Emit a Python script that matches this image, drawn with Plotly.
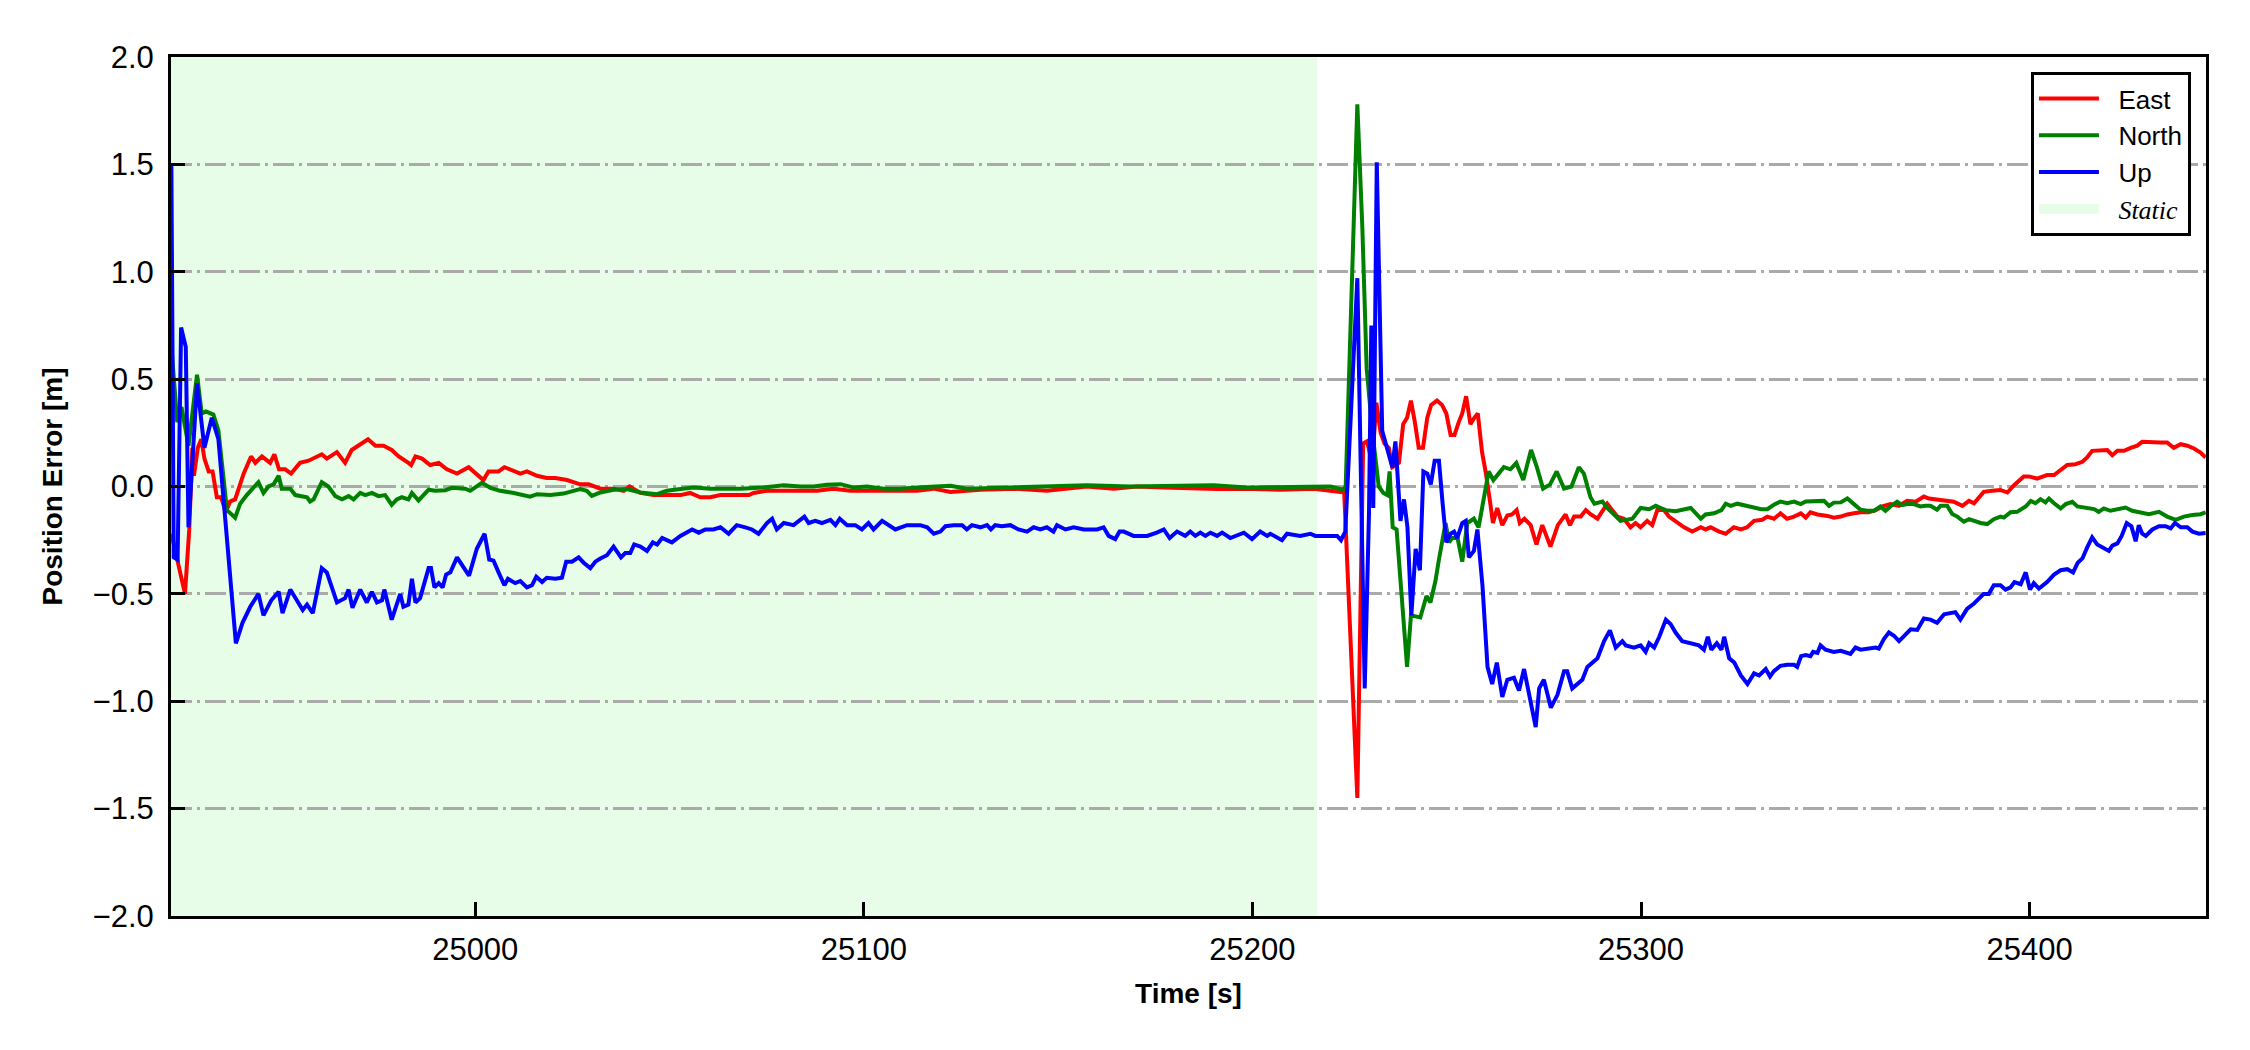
import plotly.graph_objects as go

# position error time series
t_east = [24921.8, 24923.5, 24925.3, 24926.4, 24927.2, 24927.6, 24928.6, 24929.5, 24930.3, 24931.4,
          24932.4, 24933.5, 24934.6, 24935.8, 24936.9, 24938.2, 24940.4, 24942.3, 24943.4, 24945.1,
          24947.2, 24948.3, 24949.5, 24951.1, 24952.6, 24954.9, 24957.1, 24960.5, 24961.8, 24964.4,
          24966.5, 24968.2, 24970.8, 24972.4, 24974.3, 24976.4, 24978.5, 24980.3, 24982.8, 24983.5,
          24984.6, 24986.3, 24988.4, 24990.6, 24992.7, 24995.3, 24998.3, 25002.1, 25003.4, 25006.0,
          25007.5, 25009.9, 25011.6, 25013.3, 25015.9, 25018.4, 25020.6, 25023.6, 25027.0, 25029.2,
          25032.2, 25035.6, 25038.2, 25039.7, 25042.5, 25045.9, 25049.3, 25052.8, 25055.3, 25057.9,
          25060.5, 25063.1, 25066.5, 25070.4, 25071.6, 25075.1, 25079.4, 25083.7, 25087.9, 25092.2,
          25096.5, 25100.8, 25105.1, 25109.4, 25113.7, 25117.9, 25122.3, 25130.0, 25138.5, 25147.1,
          25157.4, 25164.3, 25170.3, 25177.2, 25185.7, 25190.9, 25198.6, 25207.2, 25215.8, 25222.6,
          25223.6, 25227.0, 25228.5, 25229.5, 25230.8, 25231.9, 25233.0, 25234.0, 25235.1, 25236.0,
          25237.7, 25238.8, 25239.8, 25240.8, 25241.8, 25242.8, 25243.9, 25245.0, 25246.0, 25247.5,
          25248.8, 25249.9, 25251.0, 25252.0, 25253.1, 25254.0, 25255.0, 25256.1, 25257.1, 25258.0,
          25259.1, 25260.1, 25261.3, 25261.9, 25263.0, 25264.3, 25265.6, 25266.8, 25268.0, 25268.8,
          25270.0, 25271.6, 25273.1, 25274.6, 25276.7, 25278.6, 25280.6, 25281.7, 25282.8, 25284.5,
          25285.8, 25287.1, 25288.8, 25290.1, 25291.3, 25292.6, 25293.9, 25295.6, 25297.3, 25298.6,
          25299.9, 25301.6, 25302.9, 25304.2, 25305.9, 25307.2, 25309.3, 25311.1, 25313.2, 25315.4,
          25316.6, 25317.9, 25320.1, 25321.8, 25323.9, 25325.7, 25327.3, 25329.1, 25331.2, 25332.5,
          25334.2, 25335.9, 25337.6, 25339.4, 25341.1, 25342.4, 25343.6, 25345.4, 25348.0, 25349.6,
          25351.4, 25353.1, 25354.8, 25356.5, 25358.6, 25360.4, 25362.1, 25364.2, 25366.4, 25368.5,
          25370.7, 25372.8, 25374.1, 25375.8, 25378.0, 25380.5, 25382.7, 25384.4, 25385.7, 25388.2,
          25390.4, 25392.5, 25394.3, 25396.0, 25398.5, 25399.8, 25401.9, 25404.5, 25406.3, 25408.0,
          25409.7, 25411.8, 25413.6, 25414.8, 25416.1, 25420.0, 25421.3, 25422.6, 25424.3, 25426.0,
          25427.7, 25429.0, 25431.1, 25433.7, 25435.4, 25437.1, 25438.9, 25440.6, 25442.3, 25444.0,
          25445.3]
east = [-0.22, -0.36, -0.50, -0.20, 0.18, 0.05, 0.18, 0.22, 0.13, 0.07,
        0.07, -0.05, -0.05, -0.12, -0.07, -0.06, 0.06, 0.14, 0.11, 0.14,
        0.11, 0.15, 0.08, 0.08, 0.06, 0.11, 0.12, 0.15, 0.13, 0.16,
        0.11, 0.17, 0.20, 0.22, 0.19, 0.19, 0.17, 0.14, 0.11, 0.10,
        0.14, 0.13, 0.10, 0.11, 0.08, 0.06, 0.09, 0.03, 0.07, 0.07,
        0.09, 0.07, 0.06, 0.07, 0.05, 0.04, 0.04, 0.03, 0.01, 0.01,
        -0.01, -0.01, -0.02, 0.00, -0.03, -0.04, -0.04, -0.04, -0.03, -0.05,
        -0.05, -0.04, -0.04, -0.04, -0.03, -0.02, -0.02, -0.02, -0.02, -0.01,
        -0.02, -0.02, -0.02, -0.02, -0.02, -0.01, -0.025, -0.015, -0.01, -0.02,
        0.00, -0.01, 0.00, -0.005, -0.01, -0.012, -0.01, -0.015, -0.01, -0.025,
        -0.02, -1.45, 0.20, 0.21, 0.11, 0.39, 0.25, 0.20, 0.18, 0.09,
        0.11, 0.29, 0.32, 0.40, 0.30, 0.18, 0.18, 0.32, 0.38, 0.40,
        0.38, 0.34, 0.24, 0.24, 0.30, 0.34, 0.42, 0.29, 0.32, 0.34,
        0.16, 0.06, -0.09, -0.17, -0.10, -0.18, -0.135, -0.13, -0.11, -0.17,
        -0.15, -0.18, -0.27, -0.18, -0.28, -0.18, -0.13, -0.18, -0.14, -0.14,
        -0.11, -0.13, -0.15, -0.11, -0.08, -0.11, -0.14, -0.15, -0.19, -0.17,
        -0.19, -0.16, -0.18, -0.11, -0.11, -0.14, -0.17, -0.19, -0.21, -0.19,
        -0.20, -0.19, -0.21, -0.22, -0.19, -0.20, -0.19, -0.16, -0.155, -0.14,
        -0.15, -0.125, -0.15, -0.14, -0.125, -0.145, -0.12, -0.13, -0.137, -0.145,
        -0.14, -0.13, -0.125, -0.12, -0.12, -0.11, -0.093, -0.082, -0.09, -0.067,
        -0.071, -0.047, -0.056, -0.059, -0.062, -0.071, -0.09, -0.067, -0.078, -0.025,
        -0.02, -0.016, -0.028, 0.006, 0.047, 0.047, 0.037, 0.053, 0.053, 0.078,
        0.10, 0.104, 0.115, 0.135, 0.166, 0.17, 0.146, 0.166, 0.166, 0.18,
        0.19, 0.208, 0.205, 0.205, 0.205, 0.18, 0.197, 0.19, 0.177, 0.158,
        0.135]

t_north = [24921.8, 24923.3, 24924.4, 24926.2, 24928.4, 24929.6, 24930.7, 24932.6, 24933.9, 24936.1,
           24938.2, 24939.5, 24941.2, 24942.5, 24944.2, 24945.5, 24946.8, 24948.1, 24949.4, 24950.2,
           24952.4, 24953.7, 24955.4, 24956.7, 24957.5, 24958.4, 24960.5, 24962.2, 24964.0, 24965.7,
           24967.4, 24968.7, 24970.4, 24971.7, 24973.4, 24975.1, 24976.8, 24978.5, 24979.8, 24981.1,
           24982.8, 24983.7, 24985.4, 24988.0, 24989.7, 24992.3, 24994.0, 24995.7, 24997.4, 24998.7,
           25001.7, 25003.9, 25006.4, 25009.9, 25014.1, 25015.9, 25019.3, 25022.7, 25024.9, 25027.0,
           25028.7, 25030.0, 25032.2, 25035.6, 25039.0, 25042.5, 25046.8, 25049.3, 25052.8, 25056.2,
           25060.5, 25064.8, 25068.2, 25074.2, 25079.4, 25083.7, 25087.1, 25090.5, 25094.0, 25097.4,
           25100.8, 25105.1, 25109.4, 25113.7, 25118.0, 25122.3, 25126.5, 25134.3, 25142.8, 25157.4,
           25168.5, 25184.0, 25190.0, 25198.6, 25211.5, 25220.1, 25223.3, 25224.0, 25227.0, 25228.3,
           25229.4, 25230.9, 25232.5, 25233.7, 25234.7, 25235.3, 25236.1, 25237.1, 25239.8, 25240.8,
           25243.2, 25244.8, 25245.8, 25247.1, 25248.0, 25249.7, 25250.6, 25251.4, 25252.8, 25254.0,
           25255.3, 25257.0, 25258.2, 25259.5, 25260.8, 25262.0, 25263.3, 25264.7, 25266.4, 25267.9,
           25269.7, 25271.7, 25273.2, 25274.8, 25276.6, 25278.3, 25280.2, 25282.1, 25284.0, 25285.3,
           25287.0, 25288.0, 25290.1, 25291.3, 25293.0, 25294.7, 25297.8, 25299.9, 25302.1, 25303.8,
           25305.1, 25306.4, 25308.9, 25312.8, 25315.4, 25316.6, 25318.8, 25320.7, 25321.8, 25323.1,
           25324.8, 25327.4, 25330.9, 25332.5, 25334.2, 25335.9, 25337.6, 25339.4, 25341.1, 25342.4,
           25344.5, 25347.1, 25348.4, 25349.6, 25351.4, 25353.1, 25354.8, 25356.5, 25358.2, 25360.0,
           25361.6, 25362.9, 25364.2, 25365.9, 25367.2, 25368.5, 25370.2, 25371.9, 25373.2, 25374.5,
           25376.2, 25377.1, 25378.8, 25380.1, 25381.4, 25383.1, 25384.4, 25385.7, 25387.4, 25389.1,
           25390.8, 25392.5, 25393.4, 25395.1, 25396.8, 25399.0, 25400.3, 25401.5, 25402.8, 25404.1,
           25405.0, 25406.3, 25408.0, 25409.3, 25411.0, 25412.3, 25414.0, 25416.6, 25417.8, 25419.1,
           25420.8, 25422.6, 25424.7, 25426.4, 25428.6, 25430.7, 25433.3, 25435.4, 25437.6, 25439.7,
           25441.9, 25444.0, 25445.3]
north = [0.65, 0.30, 0.37, 0.19, 0.52, 0.34, 0.35, 0.335, 0.26, -0.11,
         -0.145, -0.08, -0.04, -0.015, 0.02, -0.03, 0.00, 0.01, 0.05, -0.01,
         -0.01, -0.04, -0.045, -0.05, -0.07, -0.06, 0.02, 0.00, -0.045, -0.06,
         -0.045, -0.06, -0.03, -0.04, -0.03, -0.045, -0.04, -0.085, -0.06, -0.05,
         -0.06, -0.03, -0.065, -0.015, -0.02, -0.017, -0.006, -0.006, -0.01, -0.02,
         0.017, -0.006, -0.02, -0.03, -0.047, -0.036, -0.04, -0.033, -0.02, -0.012,
         -0.02, -0.044, -0.028, -0.015, -0.012, -0.028, -0.036, -0.02, -0.012, -0.005,
         -0.01, -0.012, -0.01, -0.005, 0.006, 0.00, 0.00, 0.008, 0.011, -0.005,
         0.00, -0.01, -0.01, -0.005, 0.00, 0.003, -0.01, -0.005, 0.00, 0.006,
         0.00, 0.006, 0.006, -0.005, 0.00, 0.00, -0.015, 0.00, 1.78, 1.20,
         0.55, 0.25, 0.00, -0.03, -0.04, 0.07, -0.19, -0.20, -0.84, -0.60,
         -0.61, -0.51, -0.54, -0.44, -0.34, -0.17, -0.26, -0.24, -0.24, -0.35,
         -0.17, -0.15, -0.19, -0.07, 0.07, 0.03, 0.056, 0.09, 0.08, 0.11,
         0.03, 0.17, 0.09, -0.01, 0.01, 0.07, -0.01, 0.00, 0.09, 0.06,
         -0.05, -0.08, -0.07, -0.10, -0.13, -0.16, -0.15, -0.10, -0.106, -0.09,
         -0.10, -0.11, -0.115, -0.10, -0.15, -0.13, -0.125, -0.11, -0.08, -0.09,
         -0.08, -0.09, -0.106, -0.106, -0.085, -0.07, -0.078, -0.07, -0.082, -0.07,
         -0.067, -0.067, -0.09, -0.075, -0.074, -0.056, -0.082, -0.108, -0.113, -0.113,
         -0.093, -0.113, -0.093, -0.071, -0.087, -0.082, -0.082, -0.093, -0.09, -0.09,
         -0.108, -0.09, -0.09, -0.128, -0.14, -0.164, -0.152, -0.16, -0.17, -0.175,
         -0.152, -0.14, -0.145, -0.12, -0.118, -0.093, -0.067, -0.078, -0.059, -0.074,
         -0.056, -0.078, -0.102, -0.082, -0.071, -0.093, -0.098, -0.105, -0.118, -0.102,
         -0.113, -0.108, -0.098, -0.113, -0.12, -0.129, -0.118, -0.14, -0.155, -0.14,
         -0.133, -0.129, -0.12]

t_up = [24921.8, 24922.4, 24923.4, 24924.3, 24925.5, 24926.2, 24928.4, 24930.3, 24932.2, 24933.9,
        24938.4, 24940.1, 24942.1, 24944.2, 24945.5, 24947.5, 24949.4, 24950.4, 24952.4, 24954.1,
        24955.6, 24956.7, 24958.2, 24960.5, 24961.8, 24964.4, 24966.5, 24967.4, 24968.4, 24970.4,
        24972.1, 24973.4, 24974.7, 24976.0, 24976.6, 24978.5, 24979.8, 24980.7, 24981.5, 24982.8,
        24983.7, 24984.6, 24985.8, 24988.0, 24988.6, 24989.5, 24990.6, 24991.6, 24992.5, 24993.6,
        24995.3, 24997.0, 24998.4, 25000.4, 25002.4, 25003.6, 25004.7, 25006.0, 25007.5, 25008.4,
        25010.3, 25011.6, 25013.3, 25014.6, 25015.7, 25017.2, 25018.4, 25020.6, 25022.3, 25023.4,
        25024.9, 25026.6, 25027.9, 25029.6, 25030.9, 25032.2, 25033.9, 25035.6, 25037.5, 25038.6,
        25039.9, 25040.9, 25042.5, 25044.2, 25045.7, 25046.8, 25048.1, 25049.3, 25050.6, 25052.8,
        25055.8, 25057.5, 25059.2, 25061.3, 25063.1, 25065.2, 25067.3, 25069.5, 25071.2, 25072.9,
        25075.1, 25076.4, 25077.6, 25079.4, 25081.9, 25084.7, 25085.8, 25087.5, 25089.2, 25091.4,
        25092.7, 25093.8, 25095.7, 25097.8, 25099.5, 25101.2, 25102.5, 25104.7, 25106.4, 25108.1,
        25111.1, 25114.5, 25116.3, 25118.0, 25119.7, 25121.0, 25123.1, 25125.3, 25126.5, 25127.8,
        25130.0, 25131.7, 25132.7, 25133.8, 25135.5, 25137.7, 25139.8, 25142.0, 25143.7, 25145.4,
        25147.1, 25148.8, 25149.7, 25151.9, 25154.0, 25156.6, 25160.0, 25161.7, 25163.0, 25164.7,
        25165.8, 25166.9, 25169.4, 25172.9, 25175.4, 25177.2, 25178.7, 25180.6, 25182.7, 25184.0,
        25185.3, 25186.6, 25187.9, 25189.2, 25190.9, 25192.2, 25194.3, 25197.8, 25199.9, 25202.0,
        25203.8, 25204.6, 25207.6, 25208.9, 25212.3, 25214.9, 25216.2, 25217.9, 25221.8, 25222.8,
        25223.9, 25227.0, 25228.9, 25230.0, 25230.6, 25231.1, 25232.0, 25233.4, 25234.9, 25236.0,
        25236.8, 25238.1, 25239.0, 25239.9, 25240.9, 25242.0, 25243.1, 25244.0, 25245.0, 25245.9,
        25246.9, 25248.0, 25248.9, 25249.9, 25251.0, 25251.9, 25252.7, 25254.0, 25254.9, 25255.7,
        25257.0, 25257.9, 25259.2, 25260.5, 25261.7, 25262.9, 25264.3, 25265.6, 25267.3, 25268.6,
        25269.9, 25271.6, 25272.9, 25273.8, 25275.0, 25276.8, 25278.5, 25280.2, 25281.0, 25282.3,
        25283.6, 25284.9, 25286.2, 25288.8, 25290.5, 25292.0, 25293.5, 25295.2, 25296.1, 25298.2,
        25299.9, 25301.2, 25302.1, 25303.4, 25304.7, 25306.4, 25307.6, 25308.9, 25310.6, 25312.8,
        25314.9, 25316.2, 25317.2, 25318.1, 25319.5, 25320.7, 25321.4, 25322.7, 25324.0, 25325.7,
        25327.4, 25329.1, 25330.4, 25332.1, 25333.2, 25334.2, 25335.9, 25337.6, 25339.4, 25340.2,
        25341.2, 25342.4, 25343.6, 25344.3, 25345.4, 25346.2, 25347.5, 25349.6, 25351.4, 25353.9,
        25355.2, 25356.5, 25358.2, 25360.4, 25361.2, 25362.5, 25363.8, 25365.1, 25366.4, 25367.7,
        25369.4, 25371.1, 25372.8, 25374.5, 25376.2, 25378.0, 25380.9, 25382.2, 25383.9, 25385.7,
        25388.2, 25389.5, 25390.8, 25392.5, 25393.8, 25395.1, 25396.1, 25397.7, 25399.0, 25400.1,
        25401.1, 25402.4, 25404.5, 25406.3, 25408.0, 25409.7, 25411.2, 25412.4, 25413.6, 25414.8,
        25416.1, 25417.4, 25419.1, 25420.4, 25421.3, 25422.6, 25423.7, 25425.0, 25426.2, 25427.3,
        25428.1, 25429.0, 25429.9, 25431.6, 25433.3, 25435.0, 25436.3, 25437.4, 25438.9, 25440.6,
        25441.9, 25443.6, 25445.3]
up = [1.50, -0.33, -0.34, 0.74, 0.65, -0.19, 0.48, 0.18, 0.32, 0.22,
      -0.73, -0.635, -0.56, -0.50, -0.60, -0.53, -0.49, -0.59, -0.48, -0.53,
      -0.575, -0.55, -0.59, -0.38, -0.40, -0.54, -0.52, -0.48, -0.565, -0.48,
      -0.54, -0.49, -0.54, -0.53, -0.48, -0.62, -0.54, -0.50, -0.56, -0.55,
      -0.43, -0.54, -0.52, -0.38, -0.38, -0.47, -0.45, -0.47, -0.41, -0.40,
      -0.33, -0.38, -0.415, -0.29, -0.22, -0.34, -0.345, -0.40, -0.46, -0.43,
      -0.45, -0.44, -0.47, -0.46, -0.42, -0.445, -0.425, -0.43, -0.425, -0.35,
      -0.35, -0.33, -0.355, -0.38, -0.35, -0.335, -0.32, -0.28, -0.33, -0.31,
      -0.31, -0.27, -0.28, -0.30, -0.26, -0.27, -0.24, -0.25, -0.26, -0.23,
      -0.20, -0.215, -0.20, -0.20, -0.19, -0.22, -0.18, -0.19, -0.20, -0.22,
      -0.17, -0.15, -0.20, -0.17, -0.18, -0.14, -0.17, -0.16, -0.17, -0.155,
      -0.18, -0.15, -0.18, -0.18, -0.20, -0.17, -0.20, -0.16, -0.18, -0.20,
      -0.18, -0.18, -0.19, -0.22, -0.21, -0.185, -0.18, -0.18, -0.20, -0.18,
      -0.19, -0.18, -0.20, -0.18, -0.185, -0.18, -0.20, -0.21, -0.19, -0.20,
      -0.19, -0.21, -0.18, -0.20, -0.19, -0.20, -0.20, -0.19, -0.23, -0.245,
      -0.21, -0.21, -0.23, -0.23, -0.215, -0.20, -0.24, -0.21, -0.23, -0.21,
      -0.23, -0.215, -0.23, -0.215, -0.23, -0.215, -0.24, -0.215, -0.245, -0.21,
      -0.23, -0.22, -0.25, -0.22, -0.23, -0.22, -0.23, -0.23, -0.23, -0.25,
      -0.21, 0.97, -0.94, -0.12, 0.75, -0.10, 1.51, 0.26, 0.16, 0.09,
      0.21, -0.16, -0.06, -0.19, -0.60, -0.29, -0.39, 0.07, 0.06, 0.01,
      0.12, 0.12, -0.07, -0.26, -0.22, -0.21, -0.24, -0.17, -0.16, -0.33,
      -0.30, -0.20, -0.46, -0.84, -0.92, -0.82, -0.98, -0.90, -0.89, -0.95,
      -0.85, -1.00, -1.12, -0.94, -0.90, -1.03, -0.97, -0.86, -0.86, -0.94,
      -0.92, -0.90, -0.84, -0.80, -0.72, -0.67, -0.75, -0.72, -0.74, -0.75,
      -0.74, -0.77, -0.73, -0.75, -0.70, -0.62, -0.64, -0.68, -0.72, -0.73,
      -0.74, -0.76, -0.70, -0.76, -0.73, -0.76, -0.70, -0.80, -0.82, -0.88,
      -0.92, -0.87, -0.88, -0.85, -0.885, -0.86, -0.835, -0.83, -0.83, -0.84,
      -0.79, -0.785, -0.79, -0.77, -0.775, -0.74, -0.76, -0.77, -0.765, -0.78,
      -0.75, -0.76, -0.755, -0.75, -0.755, -0.71, -0.68, -0.695, -0.72, -0.695,
      -0.665, -0.668, -0.615, -0.62, -0.635, -0.595, -0.585, -0.62, -0.57, -0.545,
      -0.50, -0.50, -0.46, -0.46, -0.48, -0.47, -0.445, -0.455, -0.40, -0.48,
      -0.45, -0.475, -0.445, -0.41, -0.39, -0.385, -0.40, -0.355, -0.335, -0.285,
      -0.237, -0.27, -0.285, -0.30, -0.275, -0.265, -0.23, -0.17, -0.185, -0.255,
      -0.18, -0.22, -0.23, -0.20, -0.185, -0.185, -0.195, -0.17, -0.19, -0.19,
      -0.21, -0.22, -0.217]

static_span = [24921.7, 25216.7]
x_range = [24921.7, 25445.4]
y_range = [-2.0, 2.0]
x_ticks = [25000, 25100, 25200, 25300, 25400]
y_ticks = [-2.0, -1.5, -1.0, -0.5, 0.0, 0.5, 1.0, 1.5, 2.0]

FONT = "Liberation Sans, Arial, sans-serif"
STATIC_FILL = "rgb(232,253,232)"
PAD = "\u00a0\u00a0"  # extra gap between legend swatch and label

fig = go.Figure()

series = [("East", t_east, east, "#ff0000"),
          ("North", t_north, north, "#008000"),
          ("Up", t_up, up, "#0000ff")]
for rank, (name, t, v, color) in enumerate(series, start=1):
    fig.add_trace(go.Scatter(x=t, y=v, mode="lines", name=PAD + name, legendrank=rank,
                             line=dict(color=color, width=4)))

# legend entry for the static period (the shading itself is a shape below the grid)
fig.add_trace(go.Scatter(
    x=[None], y=[None], mode="lines",
    line=dict(width=18, color=STATIC_FILL), legendrank=4,
    name=PAD + "<span style=\"font-family:'Liberation Serif', 'Times New Roman', serif\"><i>Static</i></span>",
))

fig.add_shape(type="rect", xref="x", yref="paper",
              x0=static_span[0], x1=static_span[1], y0=0, y1=1,
              fillcolor=STATIC_FILL, line=dict(width=0), layer="below")

axis_common = dict(
    showline=True, linecolor="black", linewidth=3, mirror=True,
    ticks="inside", ticklen=14, tickwidth=3, tickcolor="black",
    tickfont=dict(family=FONT, size=31, color="black"),
    zeroline=False,
)

fig.update_xaxes(range=x_range, tickvals=x_ticks, tickformat="d", showgrid=False,
                 ticklabelstandoff=4,
                 title=dict(text="<b>Time [s]</b>", font=dict(family=FONT, size=28, color="black"),
                            standoff=18),
                 **axis_common)
fig.update_yaxes(range=y_range, tickvals=y_ticks, tickformat=".1f",
                 showgrid=True, gridcolor="#aaaaaa", gridwidth=3, griddash="21px,5px,3px,5px",
                 ticklabelstandoff=8,
                 title=dict(text="<b>Position Error [m]</b>", font=dict(family=FONT, size=28, color="black"),
                            standoff=22),
                 **axis_common)

fig.update_layout(
    width=2250, height=1050,
    margin=dict(l=171, r=44, t=57, b=134),
    paper_bgcolor="white", plot_bgcolor="white",
    font=dict(family=FONT, color="black"),
    legend=dict(x=0.9926, y=0.9825, xanchor="right", yanchor="top",
                bgcolor="white", bordercolor="black", borderwidth=3,
                font=dict(family=FONT, size=26, color="black"),
                itemwidth=60, tracegroupgap=0),
    showlegend=True,
)

fig.write_html("out.html", config={"displayModeBar": False},
               post_script="document.body.style.margin='0';")
